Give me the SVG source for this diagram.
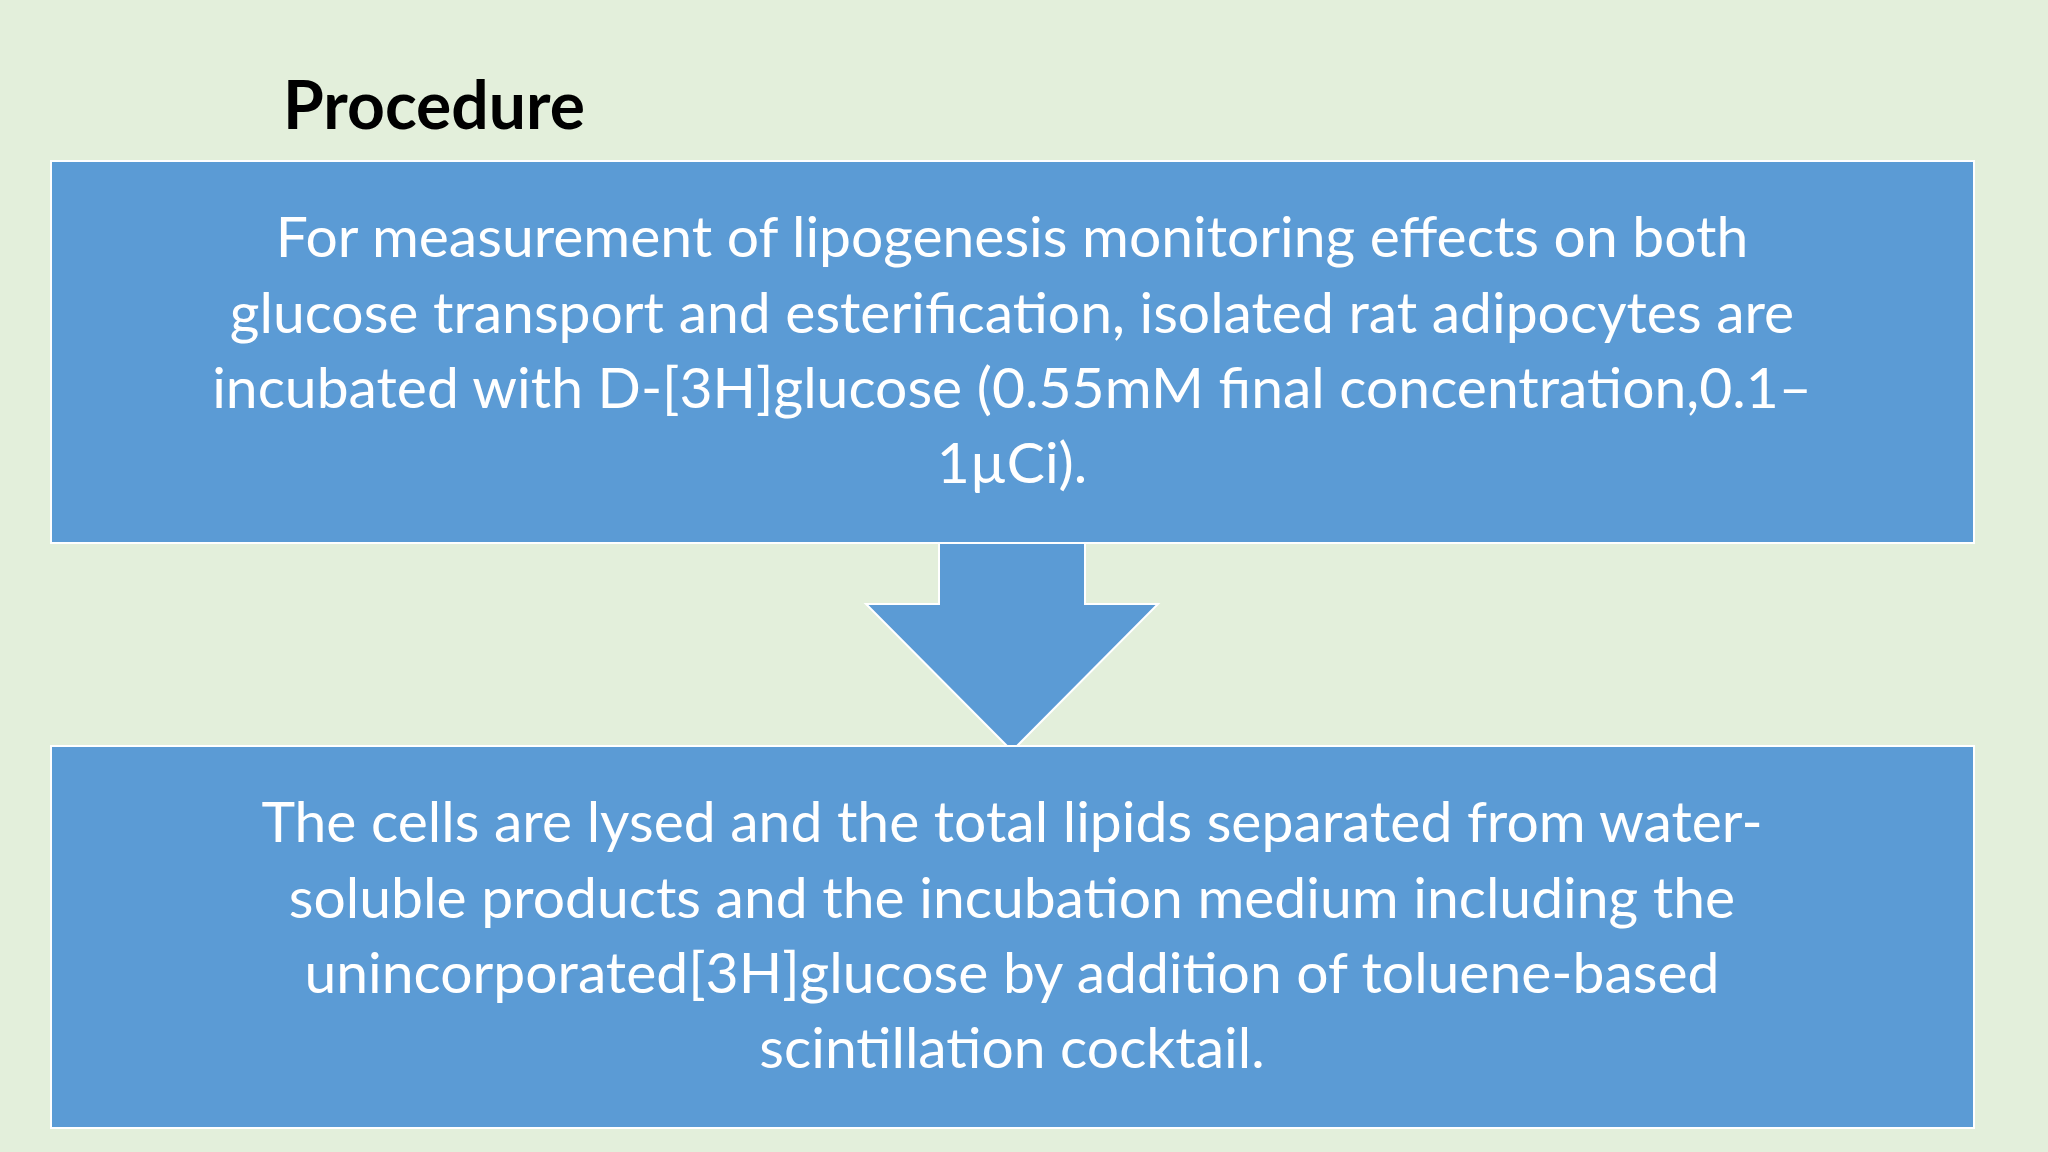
<svg xmlns="http://www.w3.org/2000/svg" width="2048" height="1152" viewBox="0 0 2048 1152">
<style>
.box{fill:#5B9BD5;stroke:#FFFFFF;stroke-width:2}
.t{font-family:Lato,"Open Sans",sans-serif;font-size:57px;fill:#FFFFFF;text-anchor:middle}
</style>
<rect width="2048" height="1152" fill="#E3EFDB"/>
<text x="283" y="129" font-family="Lato,'Open Sans',sans-serif" font-weight="bold" font-size="66" fill="#000">Procedure</text>
<g id="connectors">
<polygon class="box" points="939,543 1085,543 1085,604 1158,604 1012,751 866,604 939,604"/>
</g>
<g id="node1">
<rect class="box" x="51" y="161" width="1923" height="382"/>
<text class="t" x="1012" y="257">For measurement of lipogenesis monitoring effects on both</text>
<text class="t" x="1012" y="333">glucose transport and esterification, isolated rat adipocytes are</text>
<text class="t" x="1012" y="408">incubated with D-[3H]glucose (0.55mM final concentration,0.1–</text>
<text class="t" x="1012" y="483">1µCi).</text>
</g>
<g id="node2">
<rect class="box" x="51" y="746" width="1923" height="382"/>
<text class="t" x="1012" y="842">The cells are lysed and the total lipids separated from water-</text>
<text class="t" x="1012" y="918">soluble products and the incubation medium including the</text>
<text class="t" x="1012" y="993">unincorporated[3H]glucose by addition of toluene-based</text>
<text class="t" x="1012" y="1068">scintillation cocktail.</text>
</g>
</svg>
